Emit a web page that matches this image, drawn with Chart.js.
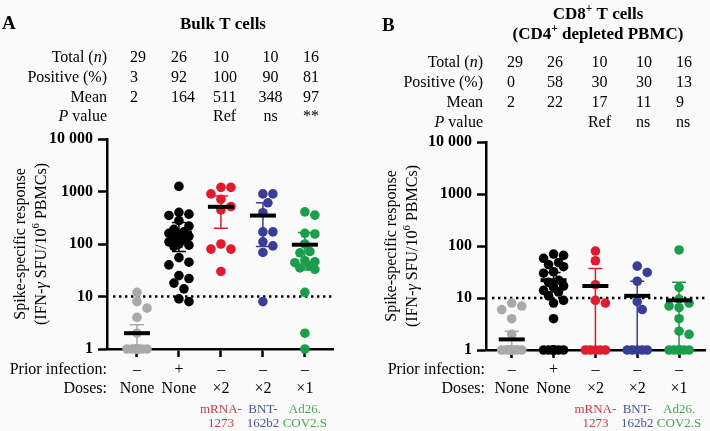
<!DOCTYPE html>
<html><head><meta charset="utf-8">
<script src="https://cdn.jsdelivr.net/npm/chart.js@4.4.1/dist/chart.umd.min.js"></script>
<style>
html,body{margin:0;padding:0;background:#fafafa;}
#wrap{position:relative;width:710px;height:431px;overflow:hidden;}
canvas{position:absolute;top:0;}
</style></head><body>
<div id="wrap">
<canvas id="cA" width="355" height="431" style="left:0"></canvas>
<canvas id="cB" width="355" height="431" style="left:355px"></canvas>
</div>
<script>
// ---------------- data ----------------
const categories = ['Unexposed', 'Convalescent', 'mRNA-1273', 'BNT162b2', 'Ad26.COV2.S'];
const priorInfection = ['–', '+', '–', '–', '–'];
const doses = ['None', 'None', '×2', '×2', '×1'];
const vaccineNames = [[], [], ['mRNA-', '1273'], ['BNT-', '162b2'], ['Ad26.', 'COV2.S']];
const yTickValues = [1, 10, 100, 1000, 10000];
const positivityThreshold = 10;

// Panel A: bulk T cells
const bulkUnexposed = [12, 8, 6, 4, 2, 1, 1, 1, 1, 1, 1, 1, 1, 1, 1, 1, 1, 1, 1, 1, 1, 1, 1, 1, 1, 1, 1, 1, 1];
const bulkConvalescent = [1250, 400, 370, 350, 280, 220, 190, 170, 160, 150, 140, 130, 120, 110, 100, 95, 90, 55, 45, 40, 25, 22, 18, 14, 9, 8];
const bulkMRNA = [1200, 1200, 900, 710, 515, 445, 100, 80, 80, 30];
const bulkBNT = [900, 900, 610, 395, 170, 170, 110, 92, 69, 8];
const bulkAd26 = [410, 355, 160, 155, 100, 72, 68, 48, 46, 44, 38, 35, 33, 12, 2, 1];
const bulkTotal = ['29', '26', '10', '10', '16'];
const bulkPositive = ['3', '92', '100', '90', '81'];
const bulkMean = ['2', '164', '511', '348', '97'];
const bulkP = ['', '', 'Ref', 'ns', '**'];
const bulkMeanLine = [2, 164, 511, 348, 97];
const bulkErrLow = [1.1, 72, 200, 90, 32];
const bulkErrHigh = [2.9, 256, 820, 610, 165];

// Panel B: CD8+ T cells
const cd8Unexposed = [8, 7, 6, 4, 2, 1, 1, 1, 1, 1, 1, 1, 1, 1, 1, 1, 1, 1, 1, 1, 1, 1, 1, 1, 1, 1, 1, 1, 1];
const cd8Convalescent = [70, 66, 58, 48, 44, 40, 32, 30, 22, 20, 17, 16, 14, 13, 11, 9, 8, 4, 1, 1, 1, 1, 1, 1, 1, 1];
const cd8MRNA = [80, 52, 18, 9, 8, 1, 1, 1, 1, 1];
const cd8BNT = [41, 31, 21, 8.5, 6, 1, 1, 1, 1, 1];
const cd8Ad26 = [84, 16, 9.5, 8, 7, 6.5, 4, 2.3, 2, 1, 1, 1, 1, 1, 1, 1];
const cd8Total = ['29', '26', '10', '10', '16'];
const cd8Positive = ['0', '58', '30', '30', '13'];
const cd8Mean = ['2', '22', '17', '11', '9'];
const cd8P = ['', '', 'Ref', 'ns', 'ns'];
const cd8MeanLine = [1.6, 22, 17, 11, 9];
const cd8ErrLow = [1.2, 13, 1, 1, 1];
const cd8ErrHigh = [2.3, 31, 37, 21, 20];

// ---------------- style ----------------
const FAM = '"Liberation Serif", "Times New Roman", serif';
const groupColors = ['#a9a9a9', '#000000', '#e31a2d', '#3a3d96', '#1b9e4b'];
const labelColors = ['#000', '#000', '#d23844', '#4b5399', '#47a853'];

function rich(ctx, segs, x, y, align, size, bold, color) {
  let w = 0;
  const parts = segs.map(s => {
    const t = s[0], f = s[1] || '';
    const sz = f.includes('s') ? size * 0.68 : size;
    const font = (f.includes('i') ? 'italic ' : '') + ((bold || f.includes('b')) ? 'bold ' : '') + sz + 'px ' + FAM;
    ctx.font = font;
    const mw = ctx.measureText(t).width;
    w += mw;
    return { t, font, mw, sup: f.includes('s') };
  });
  let cx = align === 'right' ? x - w : align === 'center' ? x - w / 2 : x;
  ctx.textAlign = 'left';
  ctx.textBaseline = 'middle';
  ctx.fillStyle = color || '#000';
  parts.forEach(p => {
    ctx.font = p.font;
    ctx.fillText(p.t, cx, p.sup ? y - size * 0.36 : y);
    cx += p.mw;
  });
}

function makeOverlay(P) {
  return {
    id: 'overlay' + P.id,
    beforeDatasetsDraw(chart) {
      const { ctx, chartArea: a, scales: { x, y } } = chart;
      ctx.save();
      const ty = y.getPixelForValue(positivityThreshold);
      ctx.strokeStyle = '#000';
      ctx.lineWidth = 2.4;
      ctx.setLineDash([2.4, 3.6]);
      ctx.beginPath(); ctx.moveTo(a.left + 6, ty); ctx.lineTo(a.right, ty); ctx.stroke();
      ctx.setLineDash([]);
      P.errLow.forEach((lo, i) => {
        const cx = x.getPixelForValue(i);
        const yl = y.getPixelForValue(Math.max(lo, 1));
        const yh = y.getPixelForValue(P.errHigh[i]);
        ctx.strokeStyle = groupColors[i];
        ctx.lineWidth = 1.5;
        ctx.beginPath();
        ctx.moveTo(cx, yl); ctx.lineTo(cx, yh);
        ctx.moveTo(cx - 7, yh); ctx.lineTo(cx + 7, yh);
        if (lo > 1) { ctx.moveTo(cx - 7, yl); ctx.lineTo(cx + 7, yl); }
        ctx.stroke();
      });
      ctx.restore();
    },
    afterDatasetsDraw(chart) {
      const { ctx, scales: { x, y } } = chart;
      ctx.save();
      ctx.strokeStyle = '#000';
      ctx.lineWidth = 4;
      P.meanLine.forEach((m, i) => {
        const cx = x.getPixelForValue(i), my = y.getPixelForValue(m);
        ctx.beginPath(); ctx.moveTo(cx - 13, my); ctx.lineTo(cx + 13, my); ctx.stroke();
      });
      ctx.restore();
    },
    afterDraw(chart) {
      const { ctx, chartArea: a, scales: { x } } = chart;
      const dx = P.dx;
      ctx.save();
      // panel letter
      rich(ctx, [[P.letter]], P.letterX - dx, P.letterY, 'left', 19, true);
      // titles
      P.titles.forEach((segs, k) => rich(ctx, segs, P.titleX - dx, P.titleY[k], 'center', 17, true));
      // table
      const rowLabels = [[['Total ('], ['n', 'i'], [')']], [['Positive (%)']], [['Mean']], [['P', 'i'], [' value']]];
      const rowVals = [P.total, P.positive, P.mean, P.pval];
      rowLabels.forEach((segs, r) => {
        rich(ctx, segs, P.labelRight - dx, P.rowY[r], 'right', 16, false);
        rowVals[r].forEach((v, c) => {
          if (v) rich(ctx, [[v]], P.colX[c] - dx, P.rowY[r], P.colAlign[c], 16, false);
        });
      });
      // y axis title (rotated)
      const midY = (a.top + a.bottom) / 2;
      const yTitle = [[['Spike-specific response']], [['(IFN-'], ['γ', 'i'], [' SFU/10'], ['6', 's'], [' PBMCs)']]];
      yTitle.forEach((segs, k) => {
        ctx.save();
        ctx.translate(P.yTitleX[k] - dx, midY);
        ctx.rotate(-Math.PI / 2);
        rich(ctx, segs, 0, 0, 'center', 16, false);
        ctx.restore();
      });
      // bottom labels
      rich(ctx, [['Prior infection:']], P.bottomRight - dx, 370, 'right', 16, false);
      rich(ctx, [['Doses:']], P.bottomRight - dx, 389, 'right', 16, false);
      categories.forEach((c, i) => {
        const cx = x.getPixelForValue(i);
        rich(ctx, [[priorInfection[i]]], cx, 370, 'center', 16, false);
        rich(ctx, [[doses[i]]], cx, 389, 'center', 16, false);
        vaccineNames[i].forEach((t, k) => rich(ctx, [[t]], cx, 410 + k * 14, 'center', 13, false, labelColors[i]));
      });
      ctx.restore();
    }
  };
}

function swarm(chart, values, ci) {
  const xs = chart.scales.x, ys = chart.scales.y;
  const ppu = xs.getPixelForValue(1) - xs.getPixelForValue(0);
  const step = 5, maxOff = 10, dmin = 9;
  const order = values.map((v, i) => i).sort((a, b) => values[b] - values[a]);
  const placed = [];
  const res = new Array(values.length);
  order.forEach(i => {
    const py = ys.getPixelForValue(values[i]);
    let best = 0, bestScore = -1;
    for (let k = 0; k <= 2 * (maxOff / step); k++) {
      const off = (k % 2 ? 1 : -1) * Math.ceil(k / 2) * step;
      let minD = Infinity;
      placed.forEach(p => { minD = Math.min(minD, Math.hypot(p.x - off, p.y - py)); });
      if (minD >= dmin) { best = off; bestScore = Infinity; break; }
      if (minD > bestScore) { bestScore = minD; best = off; }
    }
    placed.push({ x: best, y: py });
    res[i] = { x: ci + best / ppu, y: values[i] };
  });
  return res;
}

function makeChart(canvasId, P) {
  const chart = new Chart(document.getElementById(canvasId), {
    type: 'scatter',
    data: {
      datasets: P.groups.map((vals, i) => ({
        label: categories[i],
        data: vals.map(v => ({ x: i, y: v })),
        backgroundColor: groupColors[i],
        borderWidth: 0,
        pointRadius: 4.8,
        pointHoverRadius: 4.8,
        clip: false
      }))
    },
    options: {
      responsive: false,
      animation: false,
      events: [],
      layout: { padding: { top: P.padTop, bottom: P.padBottom, left: 0, right: P.padRight } },
      plugins: { legend: { display: false }, tooltip: { enabled: false } },
      scales: {
        x: {
          type: 'linear', min: P.xMin, max: P.xMax,
          afterBuildTicks: s => { s.ticks = categories.map((c, i) => ({ value: i })); },
          ticks: { display: false },
          grid: { display: true, drawOnChartArea: false, drawTicks: true, tickLength: 8, tickColor: '#000', tickWidth: 2.5 },
          border: { display: true, color: '#000', width: 2.5 },
          afterFit: s => { s.height = 8; }
        },
        y: {
          type: 'logarithmic', min: 1, max: 10000,
          afterBuildTicks: s => { s.ticks = yTickValues.map(v => ({ value: v })); },
          ticks: {
            autoSkip: false, padding: 5, color: '#000',
            font: { family: FAM, size: 16, weight: 'bold' },
            callback: v => (v === 10000 ? '10 000' : String(v))
          },
          grid: { display: true, drawOnChartArea: false, drawTicks: true, tickLength: 9, tickColor: '#000', tickWidth: 2.5 },
          border: { display: true, color: '#000', width: 2.5 },
          afterFit: s => { s.width = P.yWidth; }
        }
      }
    },
    plugins: [makeOverlay(P)]
  });
  chart.data.datasets.forEach((ds, i) => { ds.data = swarm(chart, P.groups[i], i); });
  chart.update('none');
  return chart;
}

makeChart('cA', {
  id: 'A', dx: 0,
  groups: [bulkUnexposed, bulkConvalescent, bulkMRNA, bulkBNT, bulkAd26],
  total: bulkTotal, positive: bulkPositive, mean: bulkMean, pval: bulkP,
  meanLine: bulkMeanLine, errLow: bulkErrLow, errHigh: bulkErrHigh,
  padTop: 139, padBottom: 74, padRight: 22, yWidth: 107, xMin: -0.714, xMax: 4.67,
  letter: 'A', letterX: 2, letterY: 24,
  titles: [[['Bulk T cells']]], titleX: 223, titleY: [25],
  labelRight: 107, rowY: [57.5, 78, 97.5, 117],
  colX: [130, 171, 213, 270.5, 303], colAlign: ['left', 'left', 'left', 'center', 'left'],
  yTitleX: [21, 42], bottomRight: 107
});

makeChart('cB', {
  id: 'B', dx: 355,
  groups: [cd8Unexposed, cd8Convalescent, cd8MRNA, cd8BNT, cd8Ad26],
  total: cd8Total, positive: cd8Positive, mean: cd8Mean, pval: cd8P,
  meanLine: cd8MeanLine, errLow: cd8ErrLow, errHigh: cd8ErrHigh,
  padTop: 142, padBottom: 73, padRight: 5, yWidth: 131, xMin: -0.615, xMax: 4.62,
  letter: 'B', letterX: 382, letterY: 26,
  titles: [[['CD8'], ['+', 's'], [' T cells']], [['(CD4'], ['+', 's'], [' depleted PBMC)']]],
  titleX: 598, titleY: [15, 35],
  labelRight: 483, rowY: [63, 83, 103, 123],
  colX: [507, 547, 599.5, 636, 676], colAlign: ['left', 'left', 'center', 'left', 'left'],
  yTitleX: [392, 413], bottomRight: 485
});
</script>
</body></html>
